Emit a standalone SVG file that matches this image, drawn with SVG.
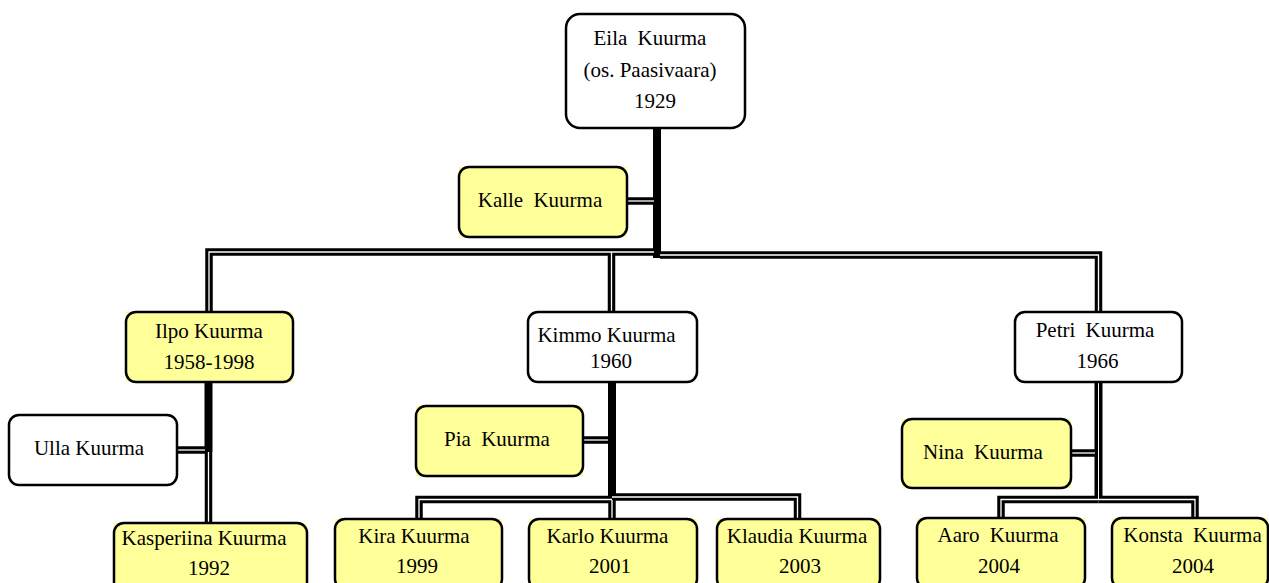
<svg xmlns="http://www.w3.org/2000/svg" xmlns:xlink="http://www.w3.org/1999/xlink" width="1269" height="583" viewBox="0 0 1269 583">
  <style>
    .box { fill: none; stroke: #000; stroke-width: 2.5; }
    .white { fill: #fff; }
    .yellow { fill: #ffff99; }
    .name { font-family: "Liberation Serif", "Times New Roman", serif; font-size: 21px; fill: #000; text-anchor: middle; }
    .wide { word-spacing: 5px; }
    .trunk { fill: none; stroke: #000; stroke-width: 8; }
    .dbl-outer { fill: none; stroke: #000; stroke-width: 7.5; stroke-linejoin: miter; }
    .dbl-inner { fill: none; stroke: #fff; stroke-width: 1.3; stroke-linejoin: miter; }
  </style>
  <defs>
    <!-- double-ruled connector routes -->
    <path id="c-kalle" d="M627,201 H654"/>
    <path id="c-busL" d="M654,252 H209 V313"/>
    <path id="c-busR" d="M660,255 H1098.5 V312"/>
    <path id="c-kimmo" d="M611.5,252 V312"/>
    <path id="c-ulla" d="M177,450 H205"/>
    <path id="c-kasp" d="M208.5,452 V523"/>
    <path id="c-pia" d="M583,440 H608"/>
    <path id="c-kira" d="M612,499.5 H419 V519"/>
    <path id="c-klaudia" d="M612,497 H797.5 V518"/>
    <path id="c-karlo" d="M612,500 V519"/>
    <path id="c-petri" d="M1098.5,382 V500"/>
    <path id="c-nina" d="M1071,453 H1095"/>
    <path id="c-aaro" d="M1098.5,499.5 H1001 V518"/>
    <path id="c-konsta" d="M1098.5,499.5 H1195 V518"/>
  </defs>

  <rect width="1269" height="583" fill="#fff"/>

  <g id="connectors">
    <!-- solid trunks below each parent -->
    <path class="trunk" d="M657,128 V258"/>
    <path class="trunk" d="M208.5,382 V452"/>
    <path class="trunk" d="M612,382 V500"/>
    <!-- double lines: black body with a thin white core -->
    <use xlink:href="#c-kalle" class="dbl-outer"/>
    <use xlink:href="#c-busL" class="dbl-outer"/>
    <use xlink:href="#c-busR" class="dbl-outer"/>
    <use xlink:href="#c-kimmo" class="dbl-outer"/>
    <use xlink:href="#c-ulla" class="dbl-outer"/>
    <use xlink:href="#c-kasp" class="dbl-outer"/>
    <use xlink:href="#c-pia" class="dbl-outer"/>
    <use xlink:href="#c-kira" class="dbl-outer"/>
    <use xlink:href="#c-klaudia" class="dbl-outer"/>
    <use xlink:href="#c-karlo" class="dbl-outer"/>
    <use xlink:href="#c-petri" class="dbl-outer" style="stroke-width:8"/>
    <use xlink:href="#c-nina" class="dbl-outer"/>
    <use xlink:href="#c-aaro" class="dbl-outer"/>
    <use xlink:href="#c-konsta" class="dbl-outer"/>

    <use xlink:href="#c-kalle" class="dbl-inner"/>
    <use xlink:href="#c-busL" class="dbl-inner"/>
    <use xlink:href="#c-busR" class="dbl-inner"/>
    <use xlink:href="#c-kimmo" class="dbl-inner"/>
    <use xlink:href="#c-ulla" class="dbl-inner"/>
    <use xlink:href="#c-kasp" class="dbl-inner"/>
    <use xlink:href="#c-pia" class="dbl-inner"/>
    <use xlink:href="#c-kira" class="dbl-inner"/>
    <use xlink:href="#c-klaudia" class="dbl-inner"/>
    <use xlink:href="#c-karlo" class="dbl-inner"/>
    <use xlink:href="#c-petri" class="dbl-inner" style="stroke-width:1"/>
    <use xlink:href="#c-nina" class="dbl-inner"/>
    <use xlink:href="#c-aaro" class="dbl-inner"/>
    <use xlink:href="#c-konsta" class="dbl-inner"/>
  </g>

  <g id="eila">
    <rect class="box white" x="566" y="14" width="179" height="114" rx="14"/>
    <text class="name wide" x="650" y="45">Eila Kuurma</text>
    <text class="name" x="650" y="77">(os. Paasivaara)</text>
    <text class="name" x="655" y="108">1929</text>
  </g>

  <g id="kalle">
    <rect class="yellow" x="459" y="167" width="168" height="70"/>
    <rect class="box" x="459" y="167" width="168" height="70" rx="10"/>
    <text class="name wide" x="540" y="207">Kalle Kuurma</text>
  </g>

  <g id="ilpo">
    <rect class="yellow" x="126" y="312" width="167" height="70"/>
    <rect class="box" x="126" y="312" width="167" height="70" rx="10"/>
    <text class="name" x="209" y="338">Ilpo Kuurma</text>
    <text class="name" x="209" y="369">1958-1998</text>
  </g>

  <g id="ulla">
    <rect class="box white" x="9" y="415" width="168" height="70" rx="10"/>
    <text class="name" x="89" y="455">Ulla Kuurma</text>
  </g>

  <g id="kasperiina">
    <rect class="yellow" x="114" y="523" width="193" height="70"/>
    <rect class="box" x="114" y="523" width="193" height="70" rx="10"/>
    <text class="name" x="204" y="545">Kasperiina Kuurma</text>
    <text class="name" x="209" y="575">1992</text>
  </g>

  <g id="kimmo">
    <rect class="box white" x="528" y="312" width="169" height="70" rx="10"/>
    <text class="name" x="606.5" y="342">Kimmo Kuurma</text>
    <text class="name" x="611" y="368">1960</text>
  </g>

  <g id="pia">
    <rect class="yellow" x="416" y="406" width="167" height="70"/>
    <rect class="box" x="416" y="406" width="167" height="70" rx="10"/>
    <text class="name wide" x="497" y="446">Pia Kuurma</text>
  </g>

  <g id="kira">
    <rect class="yellow" x="335" y="519" width="167" height="70"/>
    <rect class="box" x="335" y="519" width="167" height="70" rx="10"/>
    <text class="name" x="414" y="543">Kira Kuurma</text>
    <text class="name" x="417" y="573">1999</text>
  </g>

  <g id="karlo">
    <rect class="yellow" x="529" y="519" width="168" height="70"/>
    <rect class="box" x="529" y="519" width="168" height="70" rx="10"/>
    <text class="name" x="607.5" y="543">Karlo Kuurma</text>
    <text class="name" x="610" y="573">2001</text>
  </g>

  <g id="klaudia">
    <rect class="yellow" x="717" y="519" width="163" height="70"/>
    <rect class="box" x="717" y="519" width="163" height="70" rx="10"/>
    <text class="name" x="797" y="543">Klaudia Kuurma</text>
    <text class="name" x="800" y="573">2003</text>
  </g>

  <g id="petri">
    <rect class="box white" x="1015" y="312" width="167" height="70" rx="10"/>
    <text class="name wide" x="1095" y="337">Petri Kuurma</text>
    <text class="name" x="1097.5" y="368">1966</text>
  </g>

  <g id="nina">
    <rect class="yellow" x="902" y="419" width="169" height="69"/>
    <rect class="box" x="902" y="419" width="169" height="69" rx="10"/>
    <text class="name wide" x="983" y="459">Nina Kuurma</text>
  </g>

  <g id="aaro">
    <rect class="yellow" x="917" y="518" width="168" height="70"/>
    <rect class="box" x="917" y="518" width="168" height="70" rx="10"/>
    <text class="name wide" x="998" y="542">Aaro Kuurma</text>
    <text class="name" x="999" y="573">2004</text>
  </g>

  <g id="konsta">
    <rect class="yellow" x="1112" y="518" width="156" height="70"/>
    <rect class="box" x="1112" y="518" width="156" height="70" rx="10"/>
    <text class="name wide" x="1192.5" y="542">Konsta Kuurma</text>
    <text class="name" x="1193" y="573">2004</text>
  </g>
</svg>
